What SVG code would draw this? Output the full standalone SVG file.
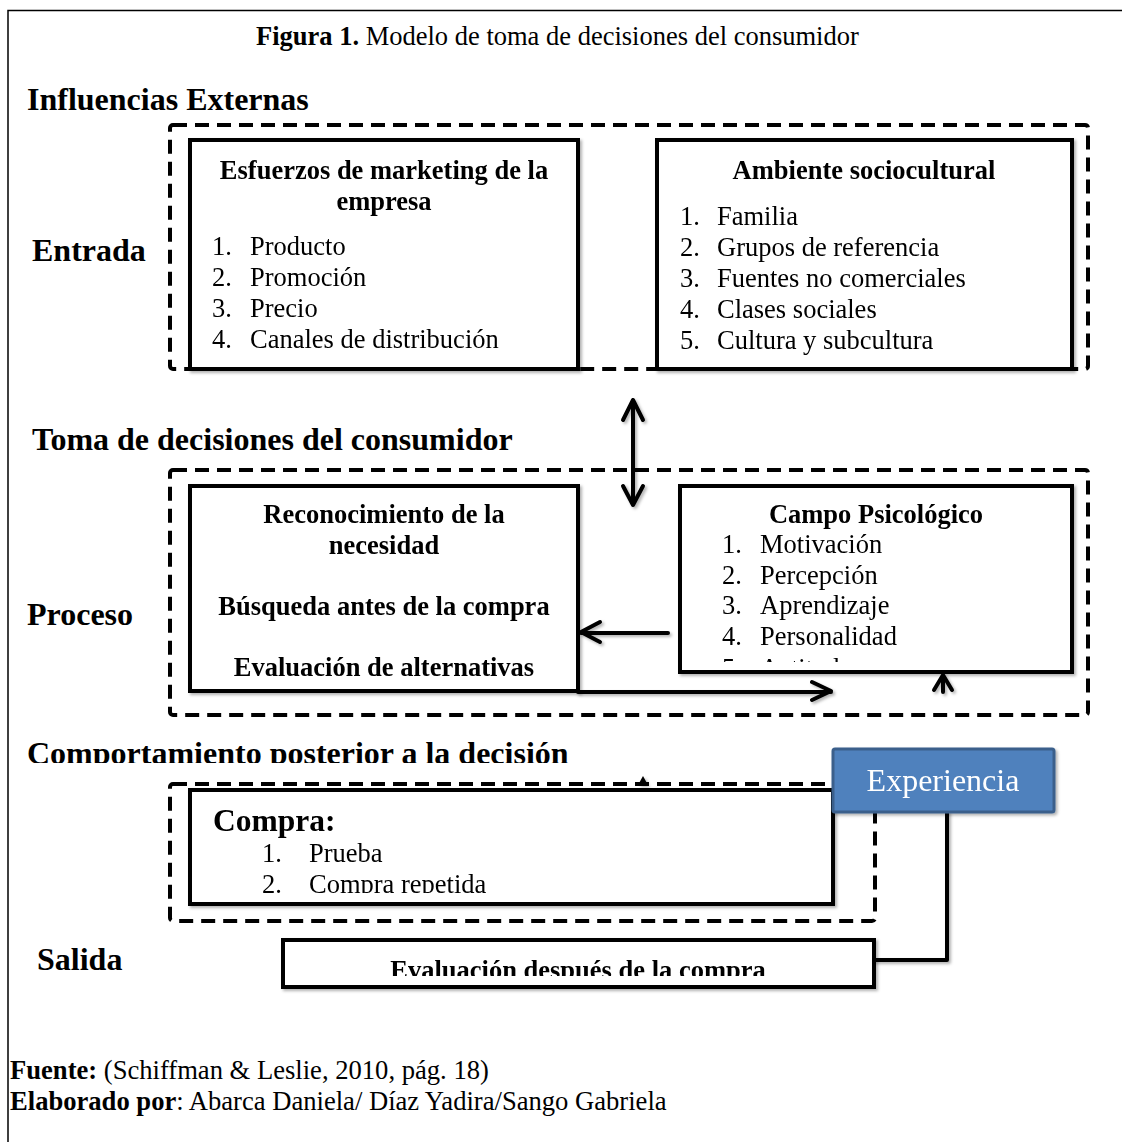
<svg xmlns="http://www.w3.org/2000/svg" width="1122" height="1142" viewBox="0 0 1122 1142">
  <style>
    text { font-family: "Liberation Serif", "Times New Roman", serif; fill: #000; }
    .b { font-weight: bold; }
    .h { font-size: 32px; font-weight: bold; }
    .t { font-size: 26.5px; font-weight: bold; }
    .l { font-size: 26.5px; }
    .mid { text-anchor: middle; }
    .dash { fill: none; stroke: #000; stroke-width: 4; stroke-dasharray: 14 8; }
    .box { fill: #fff; stroke: #000; stroke-width: 4; }
    .wire { fill: none; stroke: #000; stroke-width: 4; stroke-linecap: round; stroke-linejoin: round; }
  </style>
  <defs>
    <filter id="shadow" x="-10%" y="-10%" width="130%" height="130%">
      <feDropShadow dx="2" dy="2" stdDeviation="1.5" flood-color="#000" flood-opacity="0.3"/>
    </filter>
    <clipPath id="clipHead"><rect x="0" y="720" width="700" height="43"/></clipPath>
    <clipPath id="clipPsi"><rect x="680" y="487" width="390" height="175"/></clipPath>
    <clipPath id="clipCompra"><rect x="192" y="792" width="640" height="101"/></clipPath>
    <clipPath id="clipEval"><rect x="285" y="942" width="588" height="34"/></clipPath>
  </defs>

  <rect width="1122" height="1142" fill="#fff"/>

  <!-- page frame -->
  <path d="M8 1142 V10.5 H1122" fill="none" stroke="#000" stroke-width="1.5"/>

  <!-- caption -->
  <text x="256" y="45" style="font-size:26.5px"><tspan class="b">Figura 1.</tspan> Modelo de toma de decisiones del consumidor</text>

  <!-- section headings -->
  <text class="h" x="27" y="110">Influencias Externas</text>
  <text class="h" x="32" y="261">Entrada</text>
  <text class="h" x="32" y="450">Toma de decisiones del consumidor</text>
  <text class="h" x="27" y="625">Proceso</text>
  <text class="h" x="27" y="764" clip-path="url(#clipHead)">Comportamiento posterior a la decisión</text>
  <text class="h" x="37" y="970">Salida</text>

  <!-- group frames -->
  <g id="frames">
    <rect class="dash" x="170" y="125" width="918" height="244" rx="3"/>
    <rect class="dash" x="170" y="470" width="918" height="245" rx="3"/>
    <rect class="dash" x="170" y="784" width="705" height="137" rx="3"/>
  </g>

  <g id="marketing" filter="url(#shadow)">
    <rect class="box" x="190" y="140" width="388" height="229"/>
    <text class="t mid" x="384" y="179">Esfuerzos de marketing de la</text>
    <text class="t mid" x="384" y="210">empresa</text>
    <text class="l" x="212" y="255">1.</text><text class="l" x="250" y="255">Producto</text>
    <text class="l" x="212" y="286">2.</text><text class="l" x="250" y="286">Promoción</text>
    <text class="l" x="212" y="317">3.</text><text class="l" x="250" y="317">Precio</text>
    <text class="l" x="212" y="348">4.</text><text class="l" x="250" y="348">Canales de distribución</text>
  </g>

  <g id="sociocultural" filter="url(#shadow)">
    <rect class="box" x="657" y="140" width="415" height="229"/>
    <text class="t mid" x="864" y="179">Ambiente sociocultural</text>
    <text class="l" x="680" y="225">1.</text><text class="l" x="717" y="225">Familia</text>
    <text class="l" x="680" y="256">2.</text><text class="l" x="717" y="256">Grupos de referencia</text>
    <text class="l" x="680" y="287">3.</text><text class="l" x="717" y="287">Fuentes no comerciales</text>
    <text class="l" x="680" y="318">4.</text><text class="l" x="717" y="318">Clases sociales</text>
    <text class="l" x="680" y="349">5.</text><text class="l" x="717" y="349">Cultura y subcultura</text>
  </g>

  <g id="proceso" filter="url(#shadow)">
    <rect class="box" x="190" y="486" width="388" height="205"/>
    <text class="t mid" x="384" y="523">Reconocimiento de la</text>
    <text class="t mid" x="384" y="554">necesidad</text>
    <text class="t mid" x="384" y="615">Búsqueda antes de la compra</text>
    <text class="t mid" x="384" y="676">Evaluación de alternativas</text>
  </g>

  <g id="psicologico" filter="url(#shadow)">
    <rect class="box" x="680" y="486" width="392" height="186"/>
    <g clip-path="url(#clipPsi)">
      <text class="t mid" x="876" y="523">Campo Psicológico</text>
      <text class="l" x="722" y="553">1.</text><text class="l" x="760" y="553">Motivación</text>
      <text class="l" x="722" y="584">2.</text><text class="l" x="760" y="584">Percepción</text>
      <text class="l" x="722" y="614">3.</text><text class="l" x="760" y="614">Aprendizaje</text>
      <text class="l" x="722" y="645">4.</text><text class="l" x="760" y="645">Personalidad</text>
      <text class="l" x="722" y="677">5.</text><text class="l" x="760" y="677">Actitudes</text>
    </g>
  </g>

  <g id="compra" filter="url(#shadow)">
    <rect class="box" x="190" y="790" width="643" height="114"/>
    <g clip-path="url(#clipCompra)">
      <text class="b" x="213" y="831" style="font-size:31.5px">Compra:</text>
      <text class="l" x="262" y="862">1.</text><text class="l" x="309" y="862">Prueba</text>
      <text class="l" x="262" y="893">2.</text><text class="l" x="309" y="893">Compra repetida</text>
    </g>
  </g>

  <g id="evaluacion" filter="url(#shadow)">
    <rect class="box" x="283" y="940" width="591" height="47"/>
    <text class="t mid" x="578" y="979" clip-path="url(#clipEval)">Evaluación después de la compra</text>
  </g>

  <g id="connectors" filter="url(#shadow)">
    <!-- external influences <-> decision making -->
    <path class="wire" d="M633 400 V505 M623 420 L633 400 L643 420 M623 486 L633 505 L643 486"/>
    <!-- psychological field -> process -->
    <path class="wire" d="M668 633 H581 M600 622 L581 632 L600 642"/>
    <!-- process -> psychological field -->
    <path class="wire" d="M578 692 H831 M812 682 L831 691 L812 700"/>
    <path class="wire" d="M934 690 L943 675 L952 690 M943 675 V692"/>
    <!-- experience feedback -->
    <path d="M643 776 L638 785 L648 785 Z" fill="#000"/>
    <path class="wire" d="M947 812 V960 H874" stroke-linecap="butt"/>
  </g>

  <g id="experiencia" filter="url(#shadow)">
    <rect x="833" y="749" width="221" height="63" rx="2" fill="#4f81bd" stroke="#3a5f8b" stroke-width="3"/>
    <text class="mid" x="943" y="791" style="font-size:32px;fill:#fff">Experiencia</text>
  </g>

  <!-- source notes -->
  <text x="10" y="1079" style="font-size:26.6px"><tspan class="b">Fuente:</tspan> (Schiffman &amp; Leslie, 2010, pág. 18)</text>
  <text x="10" y="1110" style="font-size:26.6px"><tspan class="b">Elaborado por</tspan>: Abarca Daniela/ Díaz Yadira/Sango Gabriela</text>
</svg>
